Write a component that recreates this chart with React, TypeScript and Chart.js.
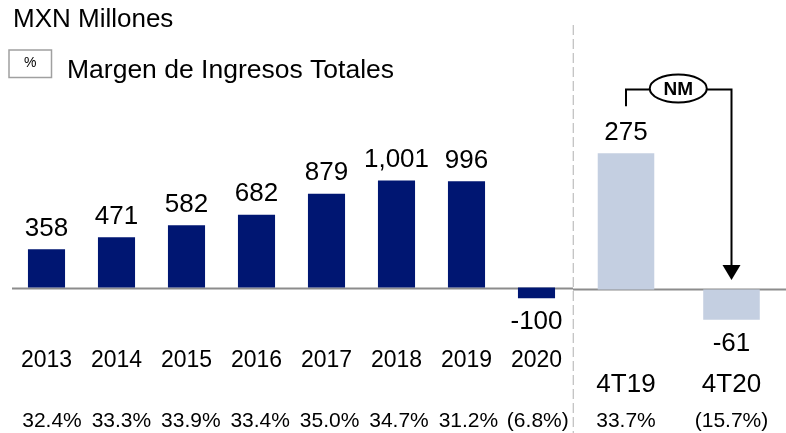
import React, { useEffect, useRef } from "react";
import { Chart, registerables } from "chart.js";

Chart.register(...registerables);

// ---- data ----
const annualLabels = ["2013", "2014", "2015", "2016", "2017", "2018", "2019", "2020"];
const annualValues = [358, 471, 582, 682, 879, 1001, 996, -100];
const annualMargins = ["32.4%", "33.3%", "33.9%", "33.4%", "35.0%", "34.7%", "31.2%", "(6.8%)"];
const quarterLabels = ["4T19", "4T20"];
const quarterValues = [275, -61];
const quarterMargins = ["33.7%", "(15.7%)"];
const unitTitle = "MXN Millones";
const legendLabel = "Margen de Ingresos Totales";
const legendSymbol = "%";
const changeLabel = "NM";

// ---- style ----
const W = 786;
const H = 433;
const FONT = '"Liberation Sans", Arial, Helvetica, sans-serif';
const NAVY = "rgb(0,22,114)";
const LIGHT = "rgb(196,207,225)";
const AXIS = "rgb(140,140,140)";

function fmt(v: number) {
  return v.toLocaleString("en-US");
}

function drawValueLabels(chart: any, ctx: CanvasRenderingContext2D, values: number[]) {
  const meta = chart.getDatasetMeta(0);
  ctx.save();
  ctx.fillStyle = "#000";
  ctx.font = `26px ${FONT}`;
  ctx.textAlign = "center";
  ctx.textBaseline = "alphabetic";
  meta.data.forEach((bar: any, i: number) => {
    const v = values[i];
    if (v >= 0) ctx.fillText(fmt(v), bar.x, bar.y - 13.5);
    else ctx.fillText(fmt(v), bar.x, bar.y + 31);
  });
  ctx.restore();
}

const annualPlugin = {
  id: "annualDecor",
  beforeDatasetsDraw(chart: any) {
    const ctx = chart.ctx as CanvasRenderingContext2D;
    const y0 = chart.scales.y.getPixelForValue(0);
    ctx.save();
    ctx.strokeStyle = AXIS;
    ctx.lineWidth = 2;
    ctx.beginPath();
    ctx.moveTo(12, y0 + 1);
    ctx.lineTo(573, y0 + 1);
    ctx.stroke();
    // divider
    ctx.strokeStyle = "rgb(195,195,195)";
    ctx.lineWidth = 1.3;
    ctx.setLineDash([10, 4]);
    ctx.beginPath();
    ctx.moveTo(573.3, 25);
    ctx.lineTo(573.3, H);
    ctx.stroke();
    ctx.restore();
  },
  afterDatasetsDraw(chart: any) {
    const ctx = chart.ctx as CanvasRenderingContext2D;
    drawValueLabels(chart, ctx, annualValues);
    const meta = chart.getDatasetMeta(0);
    ctx.save();
    ctx.fillStyle = "#000";
    ctx.textAlign = "center";
    meta.data.forEach((bar: any, i: number) => {
      ctx.font = `23px ${FONT}`;
      ctx.fillText(annualLabels[i], bar.x, 367);
      ctx.font = `21px ${FONT}`;
      ctx.fillText(annualMargins[i], bar.x + 5.5 - 0.6 * i, 427);
    });
    // title
    ctx.textAlign = "left";
    ctx.font = `26px ${FONT}`;
    ctx.fillText(unitTitle, 13, 27);
    // legend
    ctx.strokeStyle = "rgb(160,160,160)";
    ctx.lineWidth = 1.5;
    ctx.strokeRect(9, 50, 42.5, 27.5);
    ctx.textAlign = "center";
    ctx.textBaseline = "middle";
    ctx.font = `14px ${FONT}`;
    ctx.fillText(legendSymbol, 30.3, 63.5);
    ctx.textAlign = "left";
    ctx.textBaseline = "alphabetic";
    ctx.font = `26.5px ${FONT}`;
    ctx.fillText(legendLabel, 67, 78);
    ctx.restore();
  },
};

const quarterPlugin = {
  id: "quarterDecor",
  beforeDatasetsDraw(chart: any) {
    const ctx = chart.ctx as CanvasRenderingContext2D;
    const y0 = chart.scales.y.getPixelForValue(0);
    ctx.save();
    ctx.strokeStyle = AXIS;
    ctx.lineWidth = 2;
    ctx.beginPath();
    ctx.moveTo(573, y0);
    ctx.lineTo(W, y0);
    ctx.stroke();
    ctx.restore();
  },
  afterDatasetsDraw(chart: any) {
    const ctx = chart.ctx as CanvasRenderingContext2D;
    drawValueLabels(chart, ctx, quarterValues);
    const meta = chart.getDatasetMeta(0);
    const y0 = chart.scales.y.getPixelForValue(0);
    ctx.save();
    ctx.fillStyle = "#000";
    ctx.textAlign = "center";
    meta.data.forEach((bar: any, i: number) => {
      ctx.font = `26px ${FONT}`;
      ctx.fillText(quarterLabels[i], bar.x, 392);
      ctx.font = `21px ${FONT}`;
      ctx.fillText(quarterMargins[i], bar.x, 427);
    });
    // NM bracket
    const xa = meta.data[0].x;
    const xb = meta.data[1].x;
    const yTop = 89.5;
    const cx = (xa + xb) / 2 - 0.5;
    const cy = 88.5;
    const rx = 28.5;
    const ry = 14;
    ctx.strokeStyle = "#000";
    ctx.lineWidth = 2;
    ctx.beginPath();
    ctx.moveTo(xa, meta.data[0].y - 47);
    ctx.lineTo(xa, yTop);
    ctx.lineTo(cx - rx, yTop);
    ctx.moveTo(cx + rx, yTop);
    ctx.lineTo(xb, yTop);
    const tip = y0 - 9.5;
    ctx.lineTo(xb, tip - 14);
    ctx.stroke();
    ctx.beginPath();
    ctx.moveTo(xb - 9, tip - 15);
    ctx.lineTo(xb + 9, tip - 15);
    ctx.lineTo(xb, tip);
    ctx.closePath();
    ctx.fillStyle = "#000";
    ctx.fill();
    ctx.beginPath();
    ctx.ellipse(cx, cy, rx, ry, 0, 0, Math.PI * 2);
    ctx.fillStyle = "#fff";
    ctx.fill();
    ctx.stroke();
    ctx.fillStyle = "#000";
    ctx.font = `bold 19px ${FONT}`;
    ctx.textBaseline = "middle";
    ctx.fillText(changeLabel, cx, cy + 1);
    ctx.restore();
  },
};

export default function App() {
  const leftRef = useRef<HTMLCanvasElement | null>(null);
  const rightRef = useRef<HTMLCanvasElement | null>(null);

  useEffect(() => {
    const common = {
      responsive: false,
      maintainAspectRatio: false,
      devicePixelRatio: 1,
      animation: false as const,
      events: [] as any[],
      plugins: { legend: { display: false }, tooltip: { enabled: false } },
    };
    const left = new Chart(leftRef.current as HTMLCanvasElement, {
      type: "bar",
      data: {
        labels: annualLabels,
        datasets: [
          {
            data: annualValues,
            backgroundColor: NAVY,
            barPercentage: 0.53,
            categoryPercentage: 1,
          },
        ],
      },
      options: {
        ...common,
        layout: { padding: { left: 11.5, right: W - 571.5, top: 130, bottom: H - 340 } },
        scales: {
          x: { display: false },
          y: { display: false, min: -492, max: 1475 },
        },
      },
      plugins: [annualPlugin],
    } as any);
    const right = new Chart(rightRef.current as HTMLCanvasElement, {
      type: "bar",
      data: {
        labels: quarterLabels,
        datasets: [
          {
            data: quarterValues,
            backgroundColor: LIGHT,
            barPercentage: 0.536,
            categoryPercentage: 1,
          },
        ],
      },
      options: {
        ...common,
        layout: { padding: { left: 573.25, right: W - 784.25, top: 130, bottom: H - 340 } },
        scales: {
          x: { display: false },
          y: { display: false, min: -102, max: 322 },
        },
      },
      plugins: [quarterPlugin],
    } as any);
    return () => {
      left.destroy();
      right.destroy();
    };
  }, []);

  const canvasStyle: React.CSSProperties = { position: "absolute", left: 0, top: 0 };
  return (
    <div
      style={{
        position: "fixed",
        left: 0,
        top: 0,
        width: W,
        height: H,
        background: "#fff",
        overflow: "hidden",
      }}
    >
      <canvas ref={leftRef} width={W} height={H} style={canvasStyle} />
      <canvas ref={rightRef} width={W} height={H} style={canvasStyle} />
    </div>
  );
}
